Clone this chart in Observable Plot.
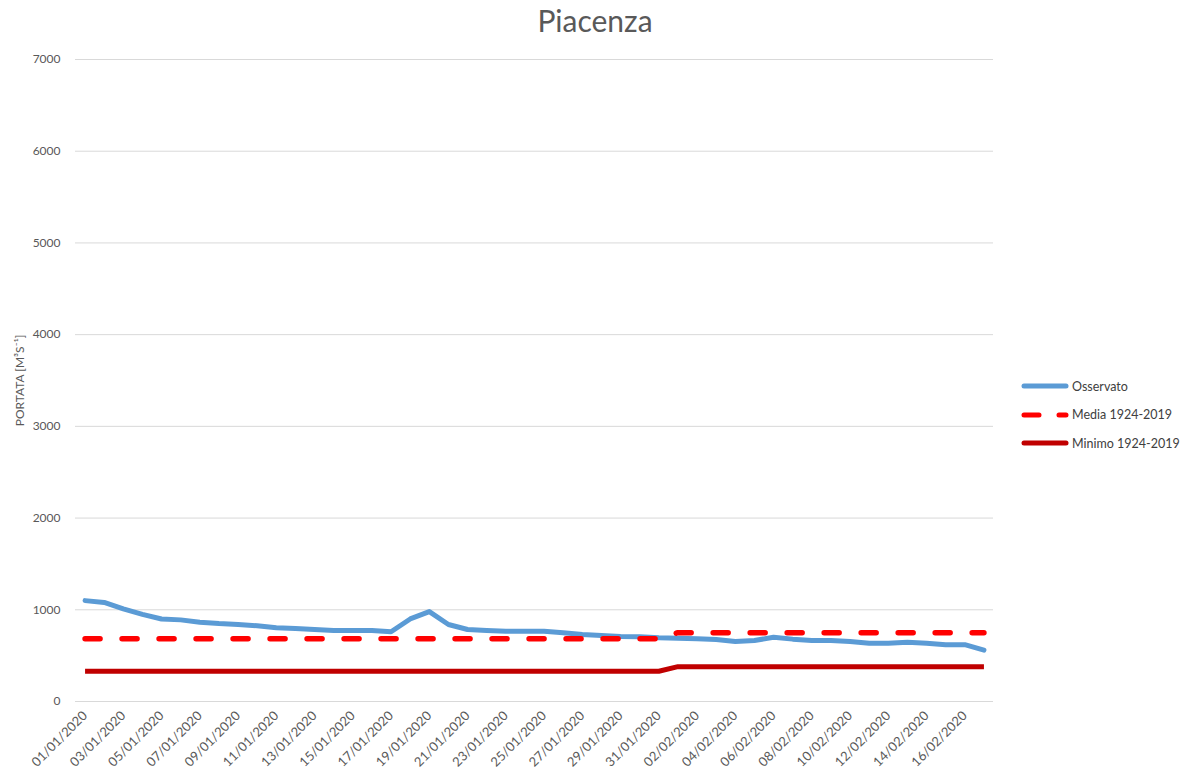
<!DOCTYPE html>
<html>
<head>
<meta charset="utf-8">
<script src="https://cdn.jsdelivr.net/npm/d3@7"></script>
<script src="https://cdn.jsdelivr.net/npm/@observablehq/plot@0.6"></script>
<style>
  html, body { margin: 0; padding: 0; background: #fff; }
  #wrap { position: relative; width: 1196px; height: 782px; overflow: hidden; font-family: Lato, "Open Sans", sans-serif; }
  #title { position: absolute; left: 0; top: 3px; width: 1190px; text-align: center; font-size: 30px; line-height: 34px; color: #595959; }
  #legend { position: absolute; left: 1021px; top: 372px; font-size: 12.5px; color: #404040; }
  .item { display: flex; align-items: center; height: 28.5px; }
  .item svg { margin-right: 3px; }
  #chart { position: absolute; left: 0; top: 0; }
</style>
</head>
<body>
<div id="wrap">
  <div id="chart"></div>
  <div id="title">Piacenza</div>
  <div id="legend"></div>
</div>
<script>
const dates = [
  "01/01/2020","02/01/2020","03/01/2020","04/01/2020","05/01/2020","06/01/2020","07/01/2020","08/01/2020",
  "09/01/2020","10/01/2020","11/01/2020","12/01/2020","13/01/2020","14/01/2020","15/01/2020","16/01/2020",
  "17/01/2020","18/01/2020","19/01/2020","20/01/2020","21/01/2020","22/01/2020","23/01/2020","24/01/2020",
  "25/01/2020","26/01/2020","27/01/2020","28/01/2020","29/01/2020","30/01/2020","31/01/2020","01/02/2020",
  "02/02/2020","03/02/2020","04/02/2020","05/02/2020","06/02/2020","07/02/2020","08/02/2020","09/02/2020",
  "10/02/2020","11/02/2020","12/02/2020","13/02/2020","14/02/2020","15/02/2020","16/02/2020","17/02/2020"
];
const osservato = [
  1100,1080,1010,950,900,890,865,850,840,825,805,795,785,775,775,775,
  760,900,980,840,785,775,765,765,765,750,730,720,710,705,695,690,
  685,675,655,665,700,680,665,665,655,635,635,645,635,620,620,560
];
const media = [
  685,685,685,685,685,685,685,685,685,685,685,685,685,685,685,685,
  685,685,685,685,685,685,685,685,685,685,685,685,685,685,685,750,
  750,750,750,750,750,750,750,750,750,750,750,750,750,750,750,750
];
const minimo = [
  330,330,330,330,330,330,330,330,330,330,330,330,330,330,330,330,
  330,330,330,330,330,330,330,330,330,330,330,330,330,330,330,380,
  380,380,380,380,380,380,380,380,380,380,380,380,380,380,380,380
];
const yTicks = [0,1000,2000,3000,4000,5000,6000,7000];
const xTicks = dates.filter((d, i) => i % 2 === 0);

const series = [
  {name: "Osservato", color: "#5B9BD5", dash: null},
  {name: "Media 1924-2019", color: "#FF0000", dash: "15,22"},
  {name: "Minimo 1924-2019", color: "#C00000", dash: null}
];

const data = dates.map((d, i) => ({date: d, oss: osservato[i], media: media[i], min: minimo[i]}));

const chart = Plot.plot({
  width: 1196,
  height: 782,
  marginLeft: 75,
  marginRight: 203,
  marginTop: 59,
  marginBottom: 81,
  style: {fontFamily: "Lato, 'Open Sans', sans-serif", fontSize: "12px", color: "#595959", background: "transparent"},
  x: {type: "point", domain: dates, padding: 0.5, round: false, ticks: xTicks, tickRotate: -45, tickSize: 0, tickPadding: 12, label: null, fontSize: 13},
  y: {domain: [0, 7000], ticks: yTicks, tickSize: 0, tickPadding: 15, tickFormat: d => String(d),
      label: "PORTATA [M³S⁻¹]", labelAnchor: "center", labelArrow: "none", labelOffset: 60},
  marks: [
    Plot.gridY(yTicks, {stroke: "#d9d9d9", strokeOpacity: 1, strokeWidth: 1}),
    Plot.axisX({ticks: xTicks, tickRotate: -45, tickSize: 0, tickPadding: 12, fontSize: 13, label: null}),
    Plot.line(data, {x: "date", y: "oss", stroke: series[0].color, strokeWidth: 5, strokeLinecap: "round", strokeLinejoin: "round"}),
    Plot.line(data, {x: "date", y: "media", stroke: series[1].color, strokeWidth: 5.5, strokeDasharray: series[1].dash, strokeLinecap: "round", strokeLinejoin: "round"}),
    Plot.line(data, {x: "date", y: "min", stroke: series[2].color, strokeWidth: 5, strokeLinecap: "butt", strokeLinejoin: "round"})
  ]
});
document.getElementById("chart").appendChild(chart);

const legend = d3.select("#legend");
series.forEach(s => {
  const it = legend.append("div").attr("class", "item");
  const svg = it.append("svg").attr("width", 48).attr("height", 10);
  svg.append("line").attr("x1", 3).attr("x2", 45).attr("y1", 5).attr("y2", 5)
    .attr("stroke", s.color).attr("stroke-width", 5).attr("stroke-linecap", "round")
    .attr("stroke-dasharray", s.dash ? "15,20" : null);
  it.append("span").text(s.name);
});
</script>
</body>
</html>
